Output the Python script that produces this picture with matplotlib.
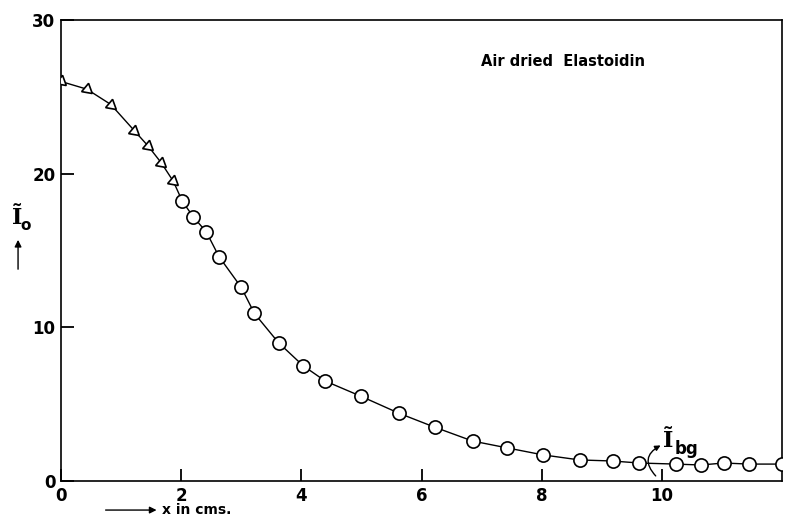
import matplotlib
matplotlib.use("Agg")
import matplotlib.pyplot as plt
from matplotlib.patches import FancyArrowPatch

# triangles: first part of the scan
tri_x = [0.0, 0.43, 0.83, 1.22, 1.45, 1.67, 1.87]
tri_y = [26.0, 25.5, 24.5, 22.8, 21.8, 20.7, 19.5]

# circles: rest of the scan
circ_x = [2.02, 2.2, 2.42, 2.63, 3.0, 3.22, 3.62, 4.03, 4.4, 5.0, 5.63, 6.22,
          6.85, 7.43, 8.02, 8.63, 9.18, 9.62, 10.23, 10.65, 11.03, 11.45, 12.0]
circ_y = [18.2, 17.2, 16.2, 14.6, 12.6, 10.9, 9.0, 7.5, 6.5, 5.5, 4.4, 3.5,
          2.6, 2.15, 1.7, 1.37, 1.3, 1.17, 1.1, 1.04, 1.17, 1.1, 1.1]

x_ticks = [0, 2, 4, 6, 8, 10]
y_ticks = [0, 10, 20, 30]

title = "Air dried  Elastoidin"

fig = plt.figure(figsize=(7.85, 5.21), dpi=100)
ax = fig.add_axes([0.0777, 0.0768, 0.9185, 0.8848])

ax.plot(tri_x + circ_x, tri_y + circ_y, color="black", lw=1.0, zorder=2)
ax.plot(tri_x, tri_y, ls="none", marker=(3, 0, 110), ms=9, mfc="white",
        mec="black", mew=1.2, zorder=3)
ax.plot(circ_x, circ_y, ls="none", marker="o", ms=9.5, mfc="white",
        mec="black", mew=1.2, zorder=3)

ax.set_xlim(0, 12.0)
ax.set_ylim(0, 30)
ax.set_xticks(x_ticks)
ax.set_yticks(y_ticks)
ax.tick_params(direction="in", length=9, width=1.3, labelsize=12, pad=4)
for lab in ax.get_xticklabels() + ax.get_yticklabels():
    lab.set_fontweight("bold")
for sp in ax.spines.values():
    sp.set_linewidth(1.2)

ax.text(8.35, 27.3, title, ha="center", va="center", fontsize=10.5,
        fontweight="bold")

# background level marker
ax.text(10.1, 2.6, "Ĩ", ha="center", va="center", fontsize=16,
        family="DejaVu Serif", fontweight="bold")
ax.text(10.22, 2.05, "bg", ha="left", va="center", fontsize=12,
        fontweight="bold")
ax.annotate("", xy=(10.02, 2.4), xytext=(9.93, 0.2),
            arrowprops=dict(arrowstyle="-|>", lw=1.0, color="black",
                            connectionstyle="arc3,rad=-0.7",
                            mutation_scale=8), annotation_clip=False)

# axis labels
fig.text(0.0215, 0.582, "Ĩ", ha="center", va="center", fontsize=16,
         family="DejaVu Serif", fontweight="bold")
fig.text(0.033, 0.567, "o", ha="center", va="center", fontsize=11,
         fontweight="bold")
fig.patches.append(FancyArrowPatch(
    (0.023, 0.478), (0.023, 0.545), transform=fig.transFigure,
    arrowstyle="-|>", mutation_scale=10, lw=1.0, color="black"))

fig.patches.append(FancyArrowPatch(
    (0.131, 0.021), (0.203, 0.021), transform=fig.transFigure,
    arrowstyle="-|>", mutation_scale=10, lw=1.0, color="black"))
fig.text(0.207, 0.021, "x in cms.", ha="left", va="center", fontsize=10,
         fontweight="bold")

fig.savefig("out.png", dpi=100)
